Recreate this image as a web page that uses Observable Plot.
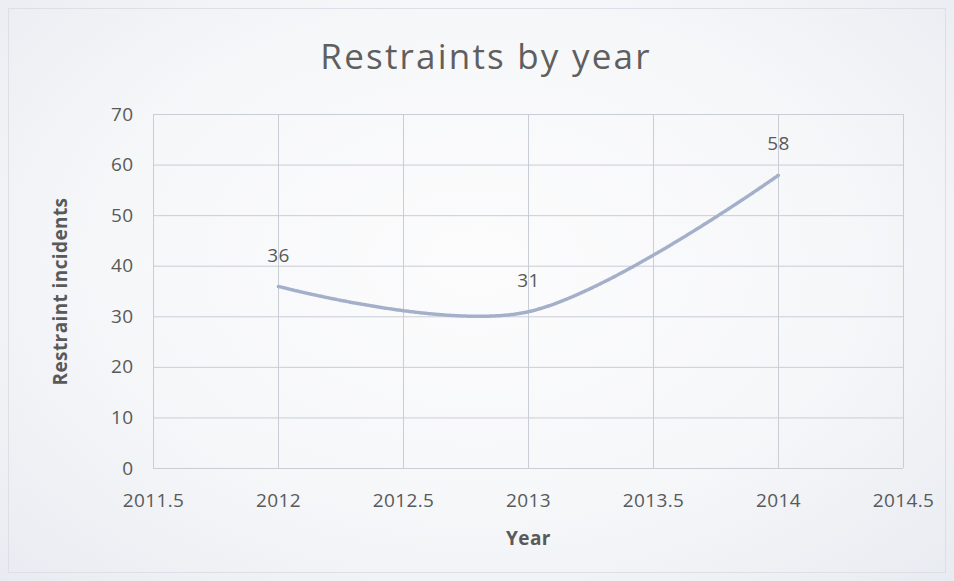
<!DOCTYPE html>
<html><head><meta charset="utf-8">
<script src="https://cdn.jsdelivr.net/npm/d3@7"></script>
<script src="https://cdn.jsdelivr.net/npm/@observablehq/plot@0.6"></script>
<style>
html,body{margin:0;padding:0;}
body{width:954px;height:581px;overflow:hidden;background:radial-gradient(ellipse at 50% 45%, #fcfcfd 0%, #f6f7f9 55%, #e8ebf1 100%);font-family:"Open Sans",sans-serif;}
#frame{position:absolute;left:8px;top:8px;width:938px;height:565px;border:1px solid #dcdfe6;box-sizing:border-box;}
#title{position:absolute;left:0;top:32px;width:972px;text-align:center;font-size:35px;color:#5f5f5f;letter-spacing:2.2px;font-weight:400;}
#chart{position:absolute;left:0;top:100px;}
</style></head>
<body>
<div id="frame"></div>
<div id="title">Restraints by year</div>
<div id="chart"></div>
<script>
const years = [2012, 2013, 2014];
const incidents = [36, 31, 58];
const xTicks = [2011.5, 2012, 2012.5, 2013, 2013.5, 2014, 2014.5];
const yTicks = [0, 10, 20, 30, 40, 50, 60, 70];

const data = years.map((y, i) => ({year: y, value: incidents[i]}));

const chart = Plot.plot({
  width: 954,
  height: 481,
  marginTop: 14,
  marginBottom: 113,
  marginLeft: 153,
  marginRight: 51,
  style: {background: "transparent", fontFamily: "'Open Sans', sans-serif", fontSize: "19px", color: "#595959", letterSpacing: "0.4px"},
  x: {domain: [2011.5, 2014.5], ticks: xTicks, tickFormat: d => String(d), label: null},
  y: {domain: [0, 70], ticks: yTicks, label: null},
  marks: [
    Plot.gridX(xTicks, {stroke: "#c9cdd5", strokeOpacity: 1, strokeWidth: 1}),
    Plot.gridY(yTicks, {stroke: "#c9cdd5", strokeOpacity: 1, strokeWidth: 1}),
    Plot.axisX(xTicks, {tickSize: 0, tickPadding: 25, fontSize: 19, fill: "#595959", tickFormat: d => String(d), label: null}),
    Plot.axisY(yTicks, {tickSize: 0, tickPadding: 20, fontSize: 19, fill: "#595959", label: null}),
    Plot.line(data, {x: "year", y: "value", curve: "cardinal", stroke: "#a4b0ca", strokeWidth: 3.5, strokeDasharray: "1.6 1.4"}),
    Plot.text(data, {x: "year", y: "value", text: d => String(d.value), dy: -31, fontSize: 19, fill: "#595959"}),
    Plot.text(["Year"], {frameAnchor: "bottom", dy: 76, fontSize: 19, fontWeight: "bold", fill: "#595959"}),
    Plot.text(["Restraint incidents"], {frameAnchor: "left", textAnchor: "middle", dx: -93, rotate: -90, fontSize: 19, fontWeight: "bold", fill: "#595959"})
  ]
});
document.getElementById("chart").appendChild(chart);
</script>
</body></html>
